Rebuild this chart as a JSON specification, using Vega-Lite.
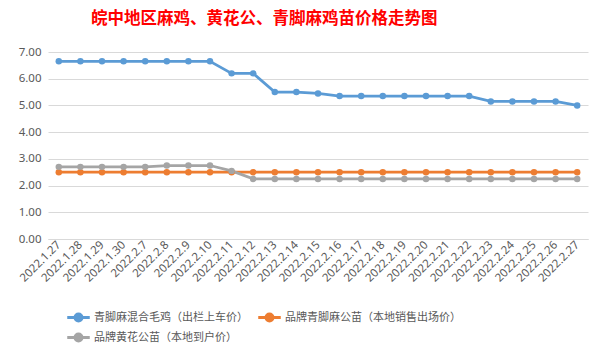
{
  "$schema": "https://vega.github.io/schema/vega-lite/v6.json",
  "autosize": "none",
  "width": 540,
  "height": 187,
  "padding": {"left": 48, "top": 52, "right": 16, "bottom": 118},
  "background": "white",
  "title": {
    "text": "皖中地区麻鸡、黄花公、青脚麻鸡苗价格走势图",
    "anchor": "start",
    "frame": "group",
    "dx": 43,
    "offset": 19,
    "font": "Noto Sans CJK SC",
    "fontSize": 16.5,
    "fontWeight": "bold",
    "color": "#FF0000"
  },
  "config": {
    "view": {"stroke": null},
    "font": "Noto Sans CJK SC"
  },
  "data": {
    "values": [
      {"date": "2022.1.27", "series": "青脚麻混合毛鸡（出栏上车价）", "price": 6.65},
      {"date": "2022.1.28", "series": "青脚麻混合毛鸡（出栏上车价）", "price": 6.65},
      {"date": "2022.1.29", "series": "青脚麻混合毛鸡（出栏上车价）", "price": 6.65},
      {"date": "2022.1.30", "series": "青脚麻混合毛鸡（出栏上车价）", "price": 6.65},
      {"date": "2022.2.7", "series": "青脚麻混合毛鸡（出栏上车价）", "price": 6.65},
      {"date": "2022.2.8", "series": "青脚麻混合毛鸡（出栏上车价）", "price": 6.65},
      {"date": "2022.2.9", "series": "青脚麻混合毛鸡（出栏上车价）", "price": 6.65},
      {"date": "2022.2.10", "series": "青脚麻混合毛鸡（出栏上车价）", "price": 6.65},
      {"date": "2022.2.11", "series": "青脚麻混合毛鸡（出栏上车价）", "price": 6.2},
      {"date": "2022.2.12", "series": "青脚麻混合毛鸡（出栏上车价）", "price": 6.2},
      {"date": "2022.2.13", "series": "青脚麻混合毛鸡（出栏上车价）", "price": 5.5},
      {"date": "2022.2.14", "series": "青脚麻混合毛鸡（出栏上车价）", "price": 5.5},
      {"date": "2022.2.15", "series": "青脚麻混合毛鸡（出栏上车价）", "price": 5.45},
      {"date": "2022.2.16", "series": "青脚麻混合毛鸡（出栏上车价）", "price": 5.35},
      {"date": "2022.2.17", "series": "青脚麻混合毛鸡（出栏上车价）", "price": 5.35},
      {"date": "2022.2.18", "series": "青脚麻混合毛鸡（出栏上车价）", "price": 5.35},
      {"date": "2022.2.19", "series": "青脚麻混合毛鸡（出栏上车价）", "price": 5.35},
      {"date": "2022.2.20", "series": "青脚麻混合毛鸡（出栏上车价）", "price": 5.35},
      {"date": "2022.2.21", "series": "青脚麻混合毛鸡（出栏上车价）", "price": 5.35},
      {"date": "2022.2.22", "series": "青脚麻混合毛鸡（出栏上车价）", "price": 5.35},
      {"date": "2022.2.23", "series": "青脚麻混合毛鸡（出栏上车价）", "price": 5.15},
      {"date": "2022.2.24", "series": "青脚麻混合毛鸡（出栏上车价）", "price": 5.15},
      {"date": "2022.2.25", "series": "青脚麻混合毛鸡（出栏上车价）", "price": 5.15},
      {"date": "2022.2.26", "series": "青脚麻混合毛鸡（出栏上车价）", "price": 5.15},
      {"date": "2022.2.27", "series": "青脚麻混合毛鸡（出栏上车价）", "price": 5.0},
      {"date": "2022.1.27", "series": "品牌青脚麻公苗（本地销售出场价）", "price": 2.5},
      {"date": "2022.1.28", "series": "品牌青脚麻公苗（本地销售出场价）", "price": 2.5},
      {"date": "2022.1.29", "series": "品牌青脚麻公苗（本地销售出场价）", "price": 2.5},
      {"date": "2022.1.30", "series": "品牌青脚麻公苗（本地销售出场价）", "price": 2.5},
      {"date": "2022.2.7", "series": "品牌青脚麻公苗（本地销售出场价）", "price": 2.5},
      {"date": "2022.2.8", "series": "品牌青脚麻公苗（本地销售出场价）", "price": 2.5},
      {"date": "2022.2.9", "series": "品牌青脚麻公苗（本地销售出场价）", "price": 2.5},
      {"date": "2022.2.10", "series": "品牌青脚麻公苗（本地销售出场价）", "price": 2.5},
      {"date": "2022.2.11", "series": "品牌青脚麻公苗（本地销售出场价）", "price": 2.5},
      {"date": "2022.2.12", "series": "品牌青脚麻公苗（本地销售出场价）", "price": 2.5},
      {"date": "2022.2.13", "series": "品牌青脚麻公苗（本地销售出场价）", "price": 2.5},
      {"date": "2022.2.14", "series": "品牌青脚麻公苗（本地销售出场价）", "price": 2.5},
      {"date": "2022.2.15", "series": "品牌青脚麻公苗（本地销售出场价）", "price": 2.5},
      {"date": "2022.2.16", "series": "品牌青脚麻公苗（本地销售出场价）", "price": 2.5},
      {"date": "2022.2.17", "series": "品牌青脚麻公苗（本地销售出场价）", "price": 2.5},
      {"date": "2022.2.18", "series": "品牌青脚麻公苗（本地销售出场价）", "price": 2.5},
      {"date": "2022.2.19", "series": "品牌青脚麻公苗（本地销售出场价）", "price": 2.5},
      {"date": "2022.2.20", "series": "品牌青脚麻公苗（本地销售出场价）", "price": 2.5},
      {"date": "2022.2.21", "series": "品牌青脚麻公苗（本地销售出场价）", "price": 2.5},
      {"date": "2022.2.22", "series": "品牌青脚麻公苗（本地销售出场价）", "price": 2.5},
      {"date": "2022.2.23", "series": "品牌青脚麻公苗（本地销售出场价）", "price": 2.5},
      {"date": "2022.2.24", "series": "品牌青脚麻公苗（本地销售出场价）", "price": 2.5},
      {"date": "2022.2.25", "series": "品牌青脚麻公苗（本地销售出场价）", "price": 2.5},
      {"date": "2022.2.26", "series": "品牌青脚麻公苗（本地销售出场价）", "price": 2.5},
      {"date": "2022.2.27", "series": "品牌青脚麻公苗（本地销售出场价）", "price": 2.5},
      {"date": "2022.1.27", "series": "品牌黄花公苗（本地到户价）", "price": 2.7},
      {"date": "2022.1.28", "series": "品牌黄花公苗（本地到户价）", "price": 2.7},
      {"date": "2022.1.29", "series": "品牌黄花公苗（本地到户价）", "price": 2.7},
      {"date": "2022.1.30", "series": "品牌黄花公苗（本地到户价）", "price": 2.7},
      {"date": "2022.2.7", "series": "品牌黄花公苗（本地到户价）", "price": 2.7},
      {"date": "2022.2.8", "series": "品牌黄花公苗（本地到户价）", "price": 2.75},
      {"date": "2022.2.9", "series": "品牌黄花公苗（本地到户价）", "price": 2.75},
      {"date": "2022.2.10", "series": "品牌黄花公苗（本地到户价）", "price": 2.75},
      {"date": "2022.2.11", "series": "品牌黄花公苗（本地到户价）", "price": 2.55},
      {"date": "2022.2.12", "series": "品牌黄花公苗（本地到户价）", "price": 2.25},
      {"date": "2022.2.13", "series": "品牌黄花公苗（本地到户价）", "price": 2.25},
      {"date": "2022.2.14", "series": "品牌黄花公苗（本地到户价）", "price": 2.25},
      {"date": "2022.2.15", "series": "品牌黄花公苗（本地到户价）", "price": 2.25},
      {"date": "2022.2.16", "series": "品牌黄花公苗（本地到户价）", "price": 2.25},
      {"date": "2022.2.17", "series": "品牌黄花公苗（本地到户价）", "price": 2.25},
      {"date": "2022.2.18", "series": "品牌黄花公苗（本地到户价）", "price": 2.25},
      {"date": "2022.2.19", "series": "品牌黄花公苗（本地到户价）", "price": 2.25},
      {"date": "2022.2.20", "series": "品牌黄花公苗（本地到户价）", "price": 2.25},
      {"date": "2022.2.21", "series": "品牌黄花公苗（本地到户价）", "price": 2.25},
      {"date": "2022.2.22", "series": "品牌黄花公苗（本地到户价）", "price": 2.25},
      {"date": "2022.2.23", "series": "品牌黄花公苗（本地到户价）", "price": 2.25},
      {"date": "2022.2.24", "series": "品牌黄花公苗（本地到户价）", "price": 2.25},
      {"date": "2022.2.25", "series": "品牌黄花公苗（本地到户价）", "price": 2.25},
      {"date": "2022.2.26", "series": "品牌黄花公苗（本地到户价）", "price": 2.25},
      {"date": "2022.2.27", "series": "品牌黄花公苗（本地到户价）", "price": 2.25}
    ]
  },
  "mark": {
    "type": "line",
    "strokeWidth": 2.75,
    "point": {"filled": true, "size": 42, "opacity": 1}
  },
  "encoding": {
    "x": {
      "field": "date",
      "type": "ordinal",
      "sort": null,
      "scale": {"type": "point", "padding": 0.5},
      "axis": {
        "title": null,
        "labelAngle": -45,
        "labelAlign": "right",
        "labelBaseline": "middle",
        "labelPadding": 4,
        "labelFontSize": 11.5,
        "labelColor": "#595959",
        "labelFont": "Noto Sans",
        "ticks": false,
        "domainColor": "#D9D9D9",
        "grid": false
      }
    },
    "y": {
      "field": "price",
      "type": "quantitative",
      "scale": {"domain": [0, 7], "nice": false},
      "axis": {
        "title": null,
        "values": [0, 1, 2, 3, 4, 5, 6, 7],
        "format": ".2f",
        "labelFontSize": 11.5,
        "labelColor": "#595959",
        "labelFont": "Noto Sans",
        "labelPadding": 7,
        "ticks": false,
        "domain": false,
        "gridColor": "#D9D9D9",
        "gridWidth": 1
      }
    },
    "color": {
      "field": "series",
      "type": "nominal",
      "scale": {
        "domain": ["青脚麻混合毛鸡（出栏上车价）", "品牌青脚麻公苗（本地销售出场价）", "品牌黄花公苗（本地到户价）"],
        "range": ["#5B9BD5", "#ED7D31", "#A5A5A5"]
      },
      "legend": {
        "title": null,
        "orient": "none",
        "legendX": 20,
        "legendY": 255,
        "columns": 2,
        "gridAlign": "each",
        "direction": "horizontal",
        "columnPadding": 4,
        "rowPadding": 0,
        "labelFontSize": 11,
        "labelLimit": 0,
        "labelColor": "#595959",
        "labelFont": "Noto Sans CJK SC",
        "labelOffset": 5,
        "symbolType": "M-1.3,0L1.3,0M-0.4,0A0.4,0.4,0,1,1,0.4,0A0.4,0.4,0,1,1,-0.4,0Z",
        "symbolSize": 300,
        "symbolStrokeWidth": 3,
        "symbolOpacity": 1,
        "encode": {
          "symbols": {"update": {"fill": {"scale": "color", "field": "value"}, "stroke": {"scale": "color", "field": "value"}}}
        }
      }
    }
  }
}
